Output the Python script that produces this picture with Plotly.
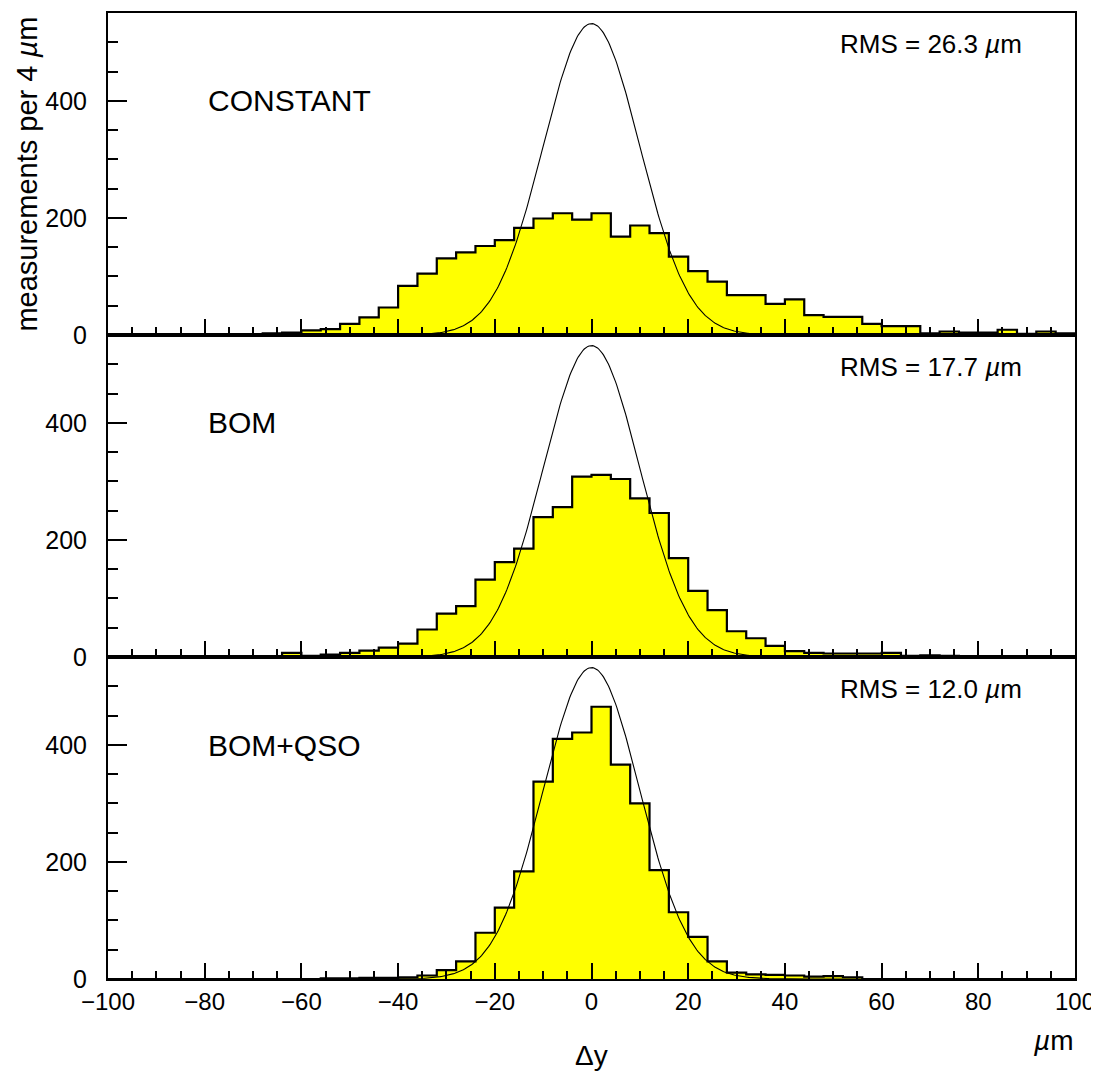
import numpy as np
import plotly.graph_objects as go
from plotly.subplots import make_subplots

# ---- data ----
bin_edges = list(range(-100, 101, 4))  # 4 um bins

counts_constant = [0, 0, 0, 0, 0, 0, 0, 1, 3, 4,
                   8, 10, 19, 30, 47, 84, 105, 131, 141, 152,
                   162, 183, 199, 208, 197, 208, 168, 187, 174, 134,
                   109, 91, 68, 68, 53, 61, 34, 31, 31, 19,
                   15, 15, 3, 6, 4, 4, 9, 2, 6, 3]
counts_bom = [0, 0, 0, 0, 0, 0, 0, 0, 1, 7,
              2, 4, 7, 11, 16, 23, 47, 74, 87, 132,
              162, 185, 239, 256, 308, 311, 304, 271, 246, 169,
              113, 80, 44, 32, 19, 10, 7, 6, 6, 6,
              7, 2, 3, 2, 0, 0, 0, 0, 0, 0]
counts_bomqso = [0, 0, 0, 0, 0, 0, 0, 0, 0, 0,
                 0, 1, 1, 2, 2, 3, 6, 15, 30, 79,
                 122, 184, 337, 410, 421, 465, 366, 300, 186, 114,
                 72, 30, 11, 8, 7, 6, 4, 5, 3, 0,
                 0, 0, 0, 0, 0, 0, 0, 0, 0, 0]

panel_labels = ["CONSTANT", "BOM", "BOM+QSO"]
rms_labels = ["RMS = 26.3 <i>µ</i>m", "RMS = 17.7 <i>µ</i>m", "RMS = 12.0 <i>µ</i>m"]
y_tick_vals = [0, 200, 400]
x_tick_vals = [-100, -80, -60, -40, -20, 0, 20, 40, 60, 80, 100]

# reference Gaussian
gauss_amp = 532.0
gauss_sigma = 10.0

all_counts = [counts_constant, counts_bom, counts_bomqso]

# ---- figure ----
fig = make_subplots(rows=3, cols=1, shared_xaxes=True, vertical_spacing=0)

gx = np.linspace(-100, 100, 801)
gy = gauss_amp * np.exp(-0.5 * (gx / gauss_sigma) ** 2)

for i, counts in enumerate(all_counts):
    hx = [bin_edges[0]] + bin_edges[:-1] + [bin_edges[-1]]
    hy = [0] + counts + [counts[-1]]
    fig.add_trace(go.Scatter(x=hx, y=hy, mode="lines", line=dict(shape="hv", color="black", width=2.2),
                             fill="tozeroy", fillcolor="#ffff00", showlegend=False, hoverinfo="skip"),
                  row=i + 1, col=1)
    fig.add_trace(go.Scatter(x=gx, y=gy, mode="lines", line=dict(color="black", width=1.1),
                             showlegend=False, hoverinfo="skip"),
                  row=i + 1, col=1)

FONT = "Liberation Sans, Arial, sans-serif"

for i in range(3):
    fig.update_xaxes(range=[-100, 100], tickvals=x_tick_vals, ticks="inside", ticklen=16, tickwidth=2,
                     tickcolor="black", showline=True, linecolor="black", linewidth=2, mirror=True,
                     showgrid=False, zeroline=False, automargin=False,
                     minor=dict(dtick=5, tick0=0, ticks="inside", ticklen=8, tickwidth=2, tickcolor="black"),
                     showticklabels=(i == 2), tickfont=dict(family=FONT, size=24, color="black"),
                     row=i + 1, col=1)
    fig.update_yaxes(range=[0, 550], tickvals=y_tick_vals, ticks="inside", ticklen=19, tickwidth=2,
                     tickcolor="black", showline=True, linecolor="black", linewidth=2, mirror=True,
                     showgrid=False, zeroline=False, automargin=False,
                     minor=dict(dtick=50, tick0=0, ticks="inside", ticklen=10, tickwidth=2, tickcolor="black"),
                     tickfont=dict(family=FONT, size=25, color="black"), ticklabelstandoff=14,
                     row=i + 1, col=1)

# y-axis title (panel 1)
fig.add_annotation(text="measurements per 4 <i>µ</i>m", xref="paper", yref="paper", x=-0.0835, y=0.833,
                   xanchor="center", yanchor="middle", textangle=-90, showarrow=False,
                   font=dict(family=FONT, size=29, color="black"))

# panel annotations
label_y = [0.909, 0.5756, 0.2422]
rms_y = [0.9675, 0.634, 0.300]
for i in range(3):
    fig.add_annotation(text=panel_labels[i], xref="paper", yref="paper", x=0.1010, y=label_y[i],
                       xanchor="left", yanchor="middle", showarrow=False,
                       font=dict(family=FONT, size=30, color="black"))
    fig.add_annotation(text=rms_labels[i], xref="paper", yref="paper", x=0.9475, y=rms_y[i],
                       xanchor="right", yanchor="middle", showarrow=False,
                       font=dict(family=FONT, size=26, color="black"))

fig.add_annotation(text="<i>µ</i>m", xref="paper", yref="paper", x=1.0, y=-0.064,
                   xanchor="right", yanchor="middle", showarrow=False,
                   font=dict(family=FONT, size=28, color="black"))
fig.add_annotation(text="Δy", xref="paper", yref="paper", x=0.5, y=-0.0787,
                   xanchor="center", yanchor="middle", showarrow=False,
                   font=dict(family=FONT, size=28, color="black"))

# page body has an 8px default margin; size the figure so the plot area lands where the reference has it
fig.update_layout(width=1091, height=1066, margin=dict(l=100, r=24, t=5, b=95),
                  paper_bgcolor="white", plot_bgcolor="white", showlegend=False)

fig.write_html("out.html")
